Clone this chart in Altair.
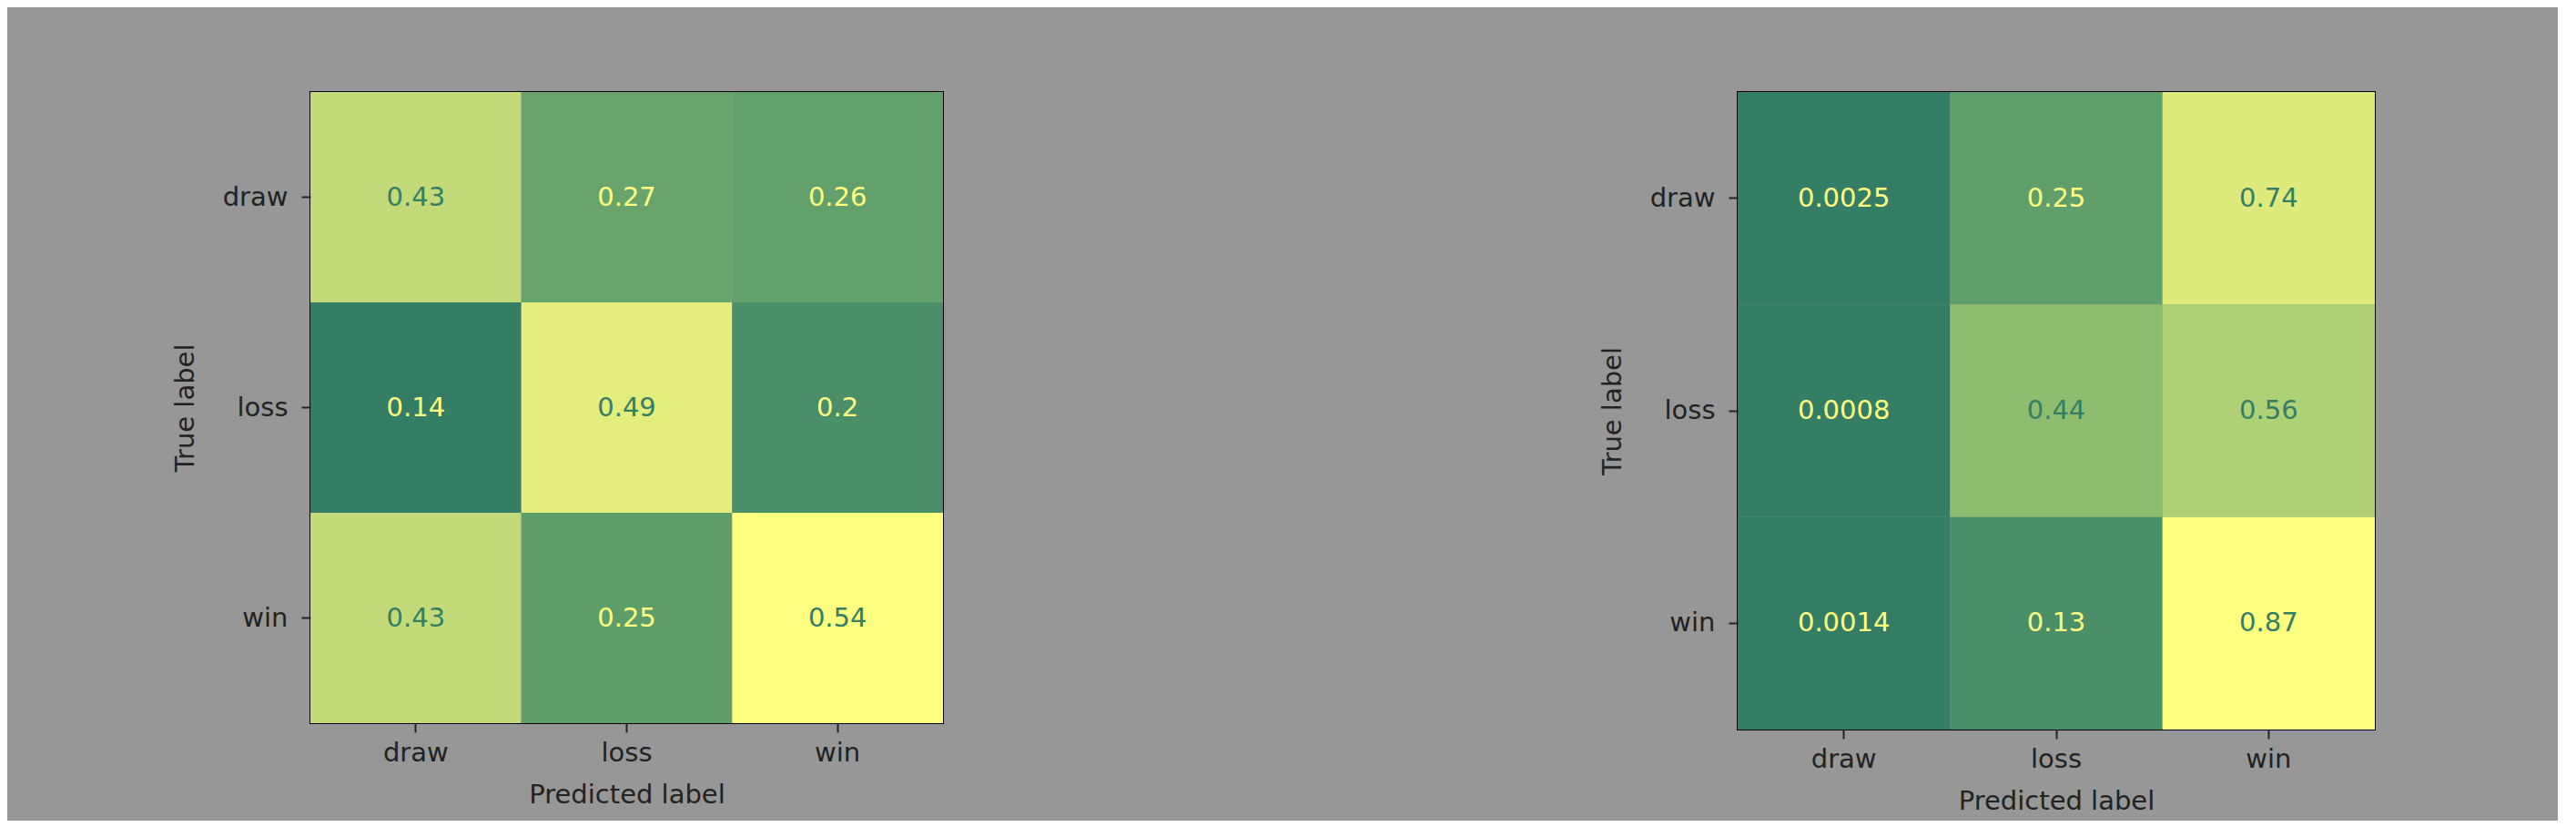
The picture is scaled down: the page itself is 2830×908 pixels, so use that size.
import altair as alt
import pandas as pd

labels = ["draw", "loss", "win"]
left_vals = [[0.43, 0.27, 0.26],
             [0.14, 0.49, 0.2],
             [0.43, 0.25, 0.54]]
right_vals = [[0.0025, 0.25, 0.74],
              [0.0008, 0.44, 0.56],
              [0.0014, 0.13, 0.87]]

# colormap stops (fraction of the value range -> colour)
stops_t = [0, 0.15, 0.3, 0.5, 0.72, 0.87, 1]
stops_c = ["#357e66", "#4a8f6a", "#62a16b", "#8ebc6f", "#c1da78", "#e2ec7b", "#ffff80"]
TEXT_DARK = "#357e66"
TEXT_LIGHT = "#ffff80"
FONT = "DejaVu Sans"
FS = 29


def panel(vals, w, h):
    rows = []
    for i, t in enumerate(labels):
        for j, p in enumerate(labels):
            rows.append({"true": t, "pred": p, "v": vals[i][j]})
    df = pd.DataFrame(rows)
    lo = min(min(r) for r in vals)
    hi = max(max(r) for r in vals)
    dom = [lo + s * (hi - lo) for s in stops_t]
    thresh = (lo + hi) / 2
    base = alt.Chart(df).encode(
        x=alt.X("pred:N", sort=labels, title="Predicted label",
                scale=alt.Scale(paddingInner=0, paddingOuter=0)),
        y=alt.Y("true:N", sort=labels, title="True label",
                scale=alt.Scale(paddingInner=0, paddingOuter=0)),
    )
    rect = base.mark_rect(strokeWidth=0).encode(
        color=alt.Color("v:Q", scale=alt.Scale(domain=dom, range=stops_c, interpolate="rgb"),
                        legend=None)
    )
    text = base.mark_text(font=FONT, fontSize=FS).encode(
        text=alt.Text("v:Q", format=".2~g"),
        color=alt.condition(f"datum.v > {thresh}", alt.value(TEXT_DARK), alt.value(TEXT_LIGHT)),
    )
    return alt.layer(rect, text).properties(width=w, height=h)


chart = alt.hconcat(
    panel(left_vals, 695, 693),
    panel(right_vals, 700, 700),
    spacing=719,
).resolve_scale(color="independent").properties(
    padding={"left": 180, "top": 92, "right": 200, "bottom": 6},
    background="#979797",
).configure_view(
    stroke="#000000", strokeWidth=2, fill=None
).configure_axis(
    labelFont=FONT, labelFontSize=FS, labelColor="#222222",
    titleFont=FONT, titleFontSize=FS, titleFontWeight="normal", titleColor="#222222",
    tickColor="#222222", tickSize=10, tickWidth=2, domain=False, grid=False,
    labelPadding=8, titlePadding=17,
).configure_axisX(labelAngle=0).configure_axisY(labelPadding=15, titlePadding=26)

chart.save("out.html", embed_options={"renderer": "svg", "actions": False})
